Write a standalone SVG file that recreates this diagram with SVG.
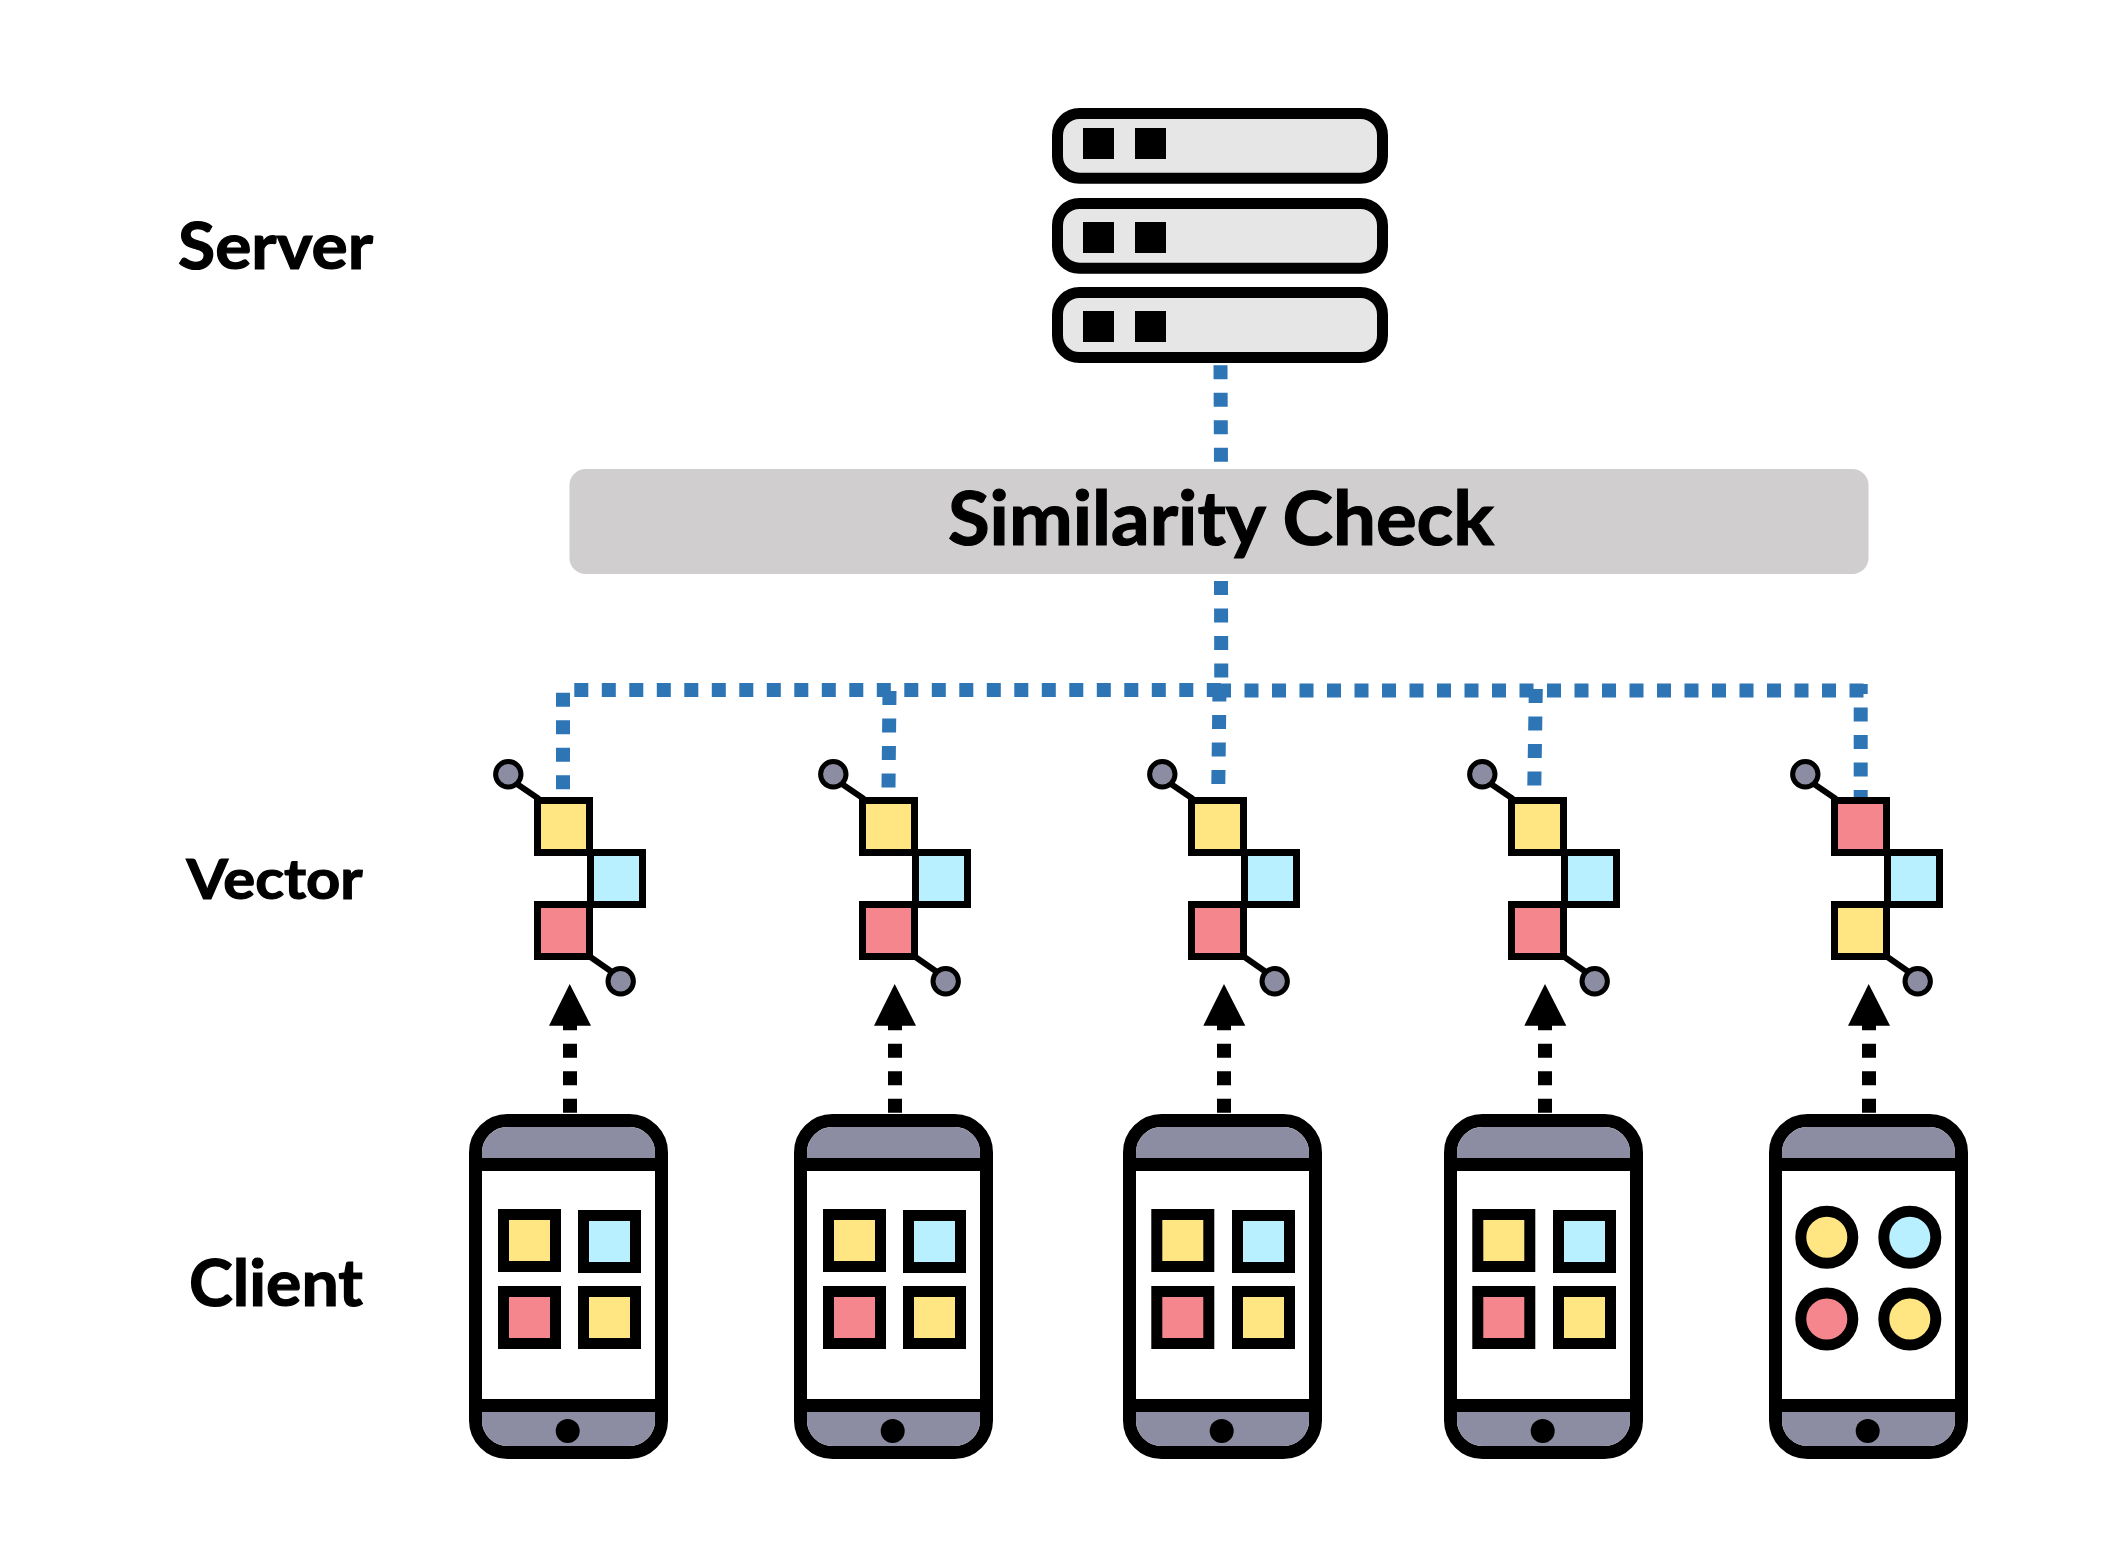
<svg xmlns="http://www.w3.org/2000/svg" width="2101" height="1566" viewBox="0 0 2101 1566">
<style>
.lb{font-family:"Lato","Liberation Sans",sans-serif;font-weight:700;fill:#000;stroke:#000;stroke-width:1.2}
.bd{fill:none;stroke:#2e75b6;stroke-width:14;stroke-dasharray:14 13.5}
.kd{fill:none;stroke:#000;stroke-width:14;stroke-dasharray:14 13.5}
.srv{fill:#e6e6e6;stroke:#000;stroke-width:11}
.cell{stroke:#000;stroke-width:7}
.ic{stroke:#000;stroke-width:11}
.y{fill:#ffe682}.b{fill:#b9f0ff}.r{fill:#f5868d}.g{fill:#8c8ca2}
.st{stroke:#000;stroke-width:6}
.dot{fill:#8c8ca2;stroke:#000;stroke-width:5}
.frame{fill:#fff;stroke:#000;stroke-width:13}
</style>
<defs>
<g id="vec">
<line class="st" x1="517" y1="784" x2="539" y2="799"/>
<line class="st" x1="589" y1="956" x2="612" y2="972"/>
<circle class="dot" cx="508.3" cy="774.3" r="12.7"/>
<circle class="dot" cx="620.7" cy="981.3" r="12.7"/>
</g>
<g id="phone">
<rect class="frame" x="475.5" y="1120.5" width="186" height="332" rx="32"/>
<path class="g" d="M482 1158V1152.500a25.500 25.500 0 0 1 25.500-25.500h122a25.500 25.500 0 0 1 25.500 25.500v5.500z"/>
<path class="g" d="M482 1412V1420.500a25.500 25.500 0 0 0 25.500 25.500h122a25.500 25.500 0 0 0 25.500-25.500v-8.500z"/>
<rect x="476" y="1158" width="185" height="13"/>
<rect x="476" y="1399" width="185" height="13"/>
<ellipse cx="567.700" cy="1431" rx="12" ry="12"/>
</g>
</defs>
<rect width="2101" height="1566" fill="#fff"/>
<g id="connectors">
<path class="bd" d="M1220.500 365.300L1221 469"/>
<path class="bd" d="M1221 581L1221.300 691"/>
<path class="bd" d="M1219.500 687.500L1218.300 785"/>
<path class="bd" d="M574.300 690H1221"/>
<path class="bd" d="M1217 690.500H1863.500"/>
<path class="bd" d="M563 692.700V789.500"/>
<path class="bd" d="M889.500 691L888.500 787.500"/>
<path class="bd" d="M1535.800 689L1534.300 785.500"/>
<path class="bd" d="M1860.700 684V797" style="stroke-dashoffset:4"/>
<g id="uplinks">
<path class="kd" d="M570 1112.700V1020"/><polygon points="569.700,984 549,1025.700 591,1025.700"/>
<path class="kd" d="M895 1112.700V1020"/><polygon points="894.700,984 874,1025.700 916,1025.700"/>
<path class="kd" d="M1224 1112.700V1020"/><polygon points="1224,984 1203.300,1025.700 1245.300,1025.700"/>
<path class="kd" d="M1545 1112.700V1020"/><polygon points="1545,984 1524.300,1025.700 1566.300,1025.700"/>
<path class="kd" d="M1869 1112.700V1020"/><polygon points="1868.700,984 1848,1025.700 1890,1025.700"/>
</g>
</g>
<g id="server">
<rect class="srv" x="1057.500" y="113.500" width="325" height="64.700" rx="22"/>
<rect class="srv" x="1057.500" y="203.500" width="325" height="64.700" rx="22"/>
<rect class="srv" x="1057.500" y="292.500" width="325" height="65" rx="22"/>
<rect x="1083" y="128" width="31" height="31"/><rect x="1135" y="128" width="31" height="31"/>
<rect x="1083" y="222" width="31" height="31"/><rect x="1135" y="222" width="31" height="31"/>
<rect x="1083" y="311" width="31" height="31"/><rect x="1135" y="311" width="31" height="31"/>
</g>
<g id="similarity-check">
<rect x="569.500" y="469" width="1299" height="105" rx="16" fill="#d0cece"/>
<text class="lb" x="948" y="545" font-size="74" textLength="546" lengthAdjust="spacingAndGlyphs">Similarity Check</text>
</g>
<g id="label-server"><text class="lb" x="178" y="269" font-size="65" textLength="195" lengthAdjust="spacingAndGlyphs">Server</text></g>
<g id="label-vector"><text class="lb" x="186.500" y="899.300" font-size="55" textLength="176" lengthAdjust="spacingAndGlyphs">Vector</text></g>
<g id="label-client"><text class="lb" x="189" y="1305.500" font-size="65" textLength="174" lengthAdjust="spacingAndGlyphs">Client</text></g>
<g id="vector-1"><use href="#vec"/>
<rect class="cell y" x="537.500" y="800.500" width="52" height="52"/><rect class="cell b" x="590.500" y="852.500" width="52" height="52"/><rect class="cell r" x="537.500" y="904.500" width="52" height="52"/></g>
<g id="vector-2" transform="translate(325 0)"><use href="#vec"/>
<rect class="cell y" x="537.500" y="800.500" width="52" height="52"/><rect class="cell b" x="590.500" y="852.500" width="52" height="52"/><rect class="cell r" x="537.500" y="904.500" width="52" height="52"/></g>
<g id="vector-3" transform="translate(654 0)"><use href="#vec"/>
<rect class="cell y" x="537.500" y="800.500" width="52" height="52"/><rect class="cell b" x="590.500" y="852.500" width="52" height="52"/><rect class="cell r" x="537.500" y="904.500" width="52" height="52"/></g>
<g id="vector-4" transform="translate(974 0)"><use href="#vec"/>
<rect class="cell y" x="537.500" y="800.500" width="52" height="52"/><rect class="cell b" x="590.500" y="852.500" width="52" height="52"/><rect class="cell r" x="537.500" y="904.500" width="52" height="52"/></g>
<g id="vector-5" transform="translate(1297 0)"><use href="#vec"/>
<rect class="cell r" x="537.500" y="800.500" width="52" height="52"/><rect class="cell b" x="590.500" y="852.500" width="52" height="52"/><rect class="cell y" x="537.500" y="904.500" width="52" height="52"/></g>
<g id="client-1"><use href="#phone"/>
<rect class="ic y" x="503.500" y="1214.500" width="52" height="52"/><rect class="ic b" x="583.500" y="1215.500" width="52" height="52"/><rect class="ic r" x="503.500" y="1291.500" width="52" height="52"/><rect class="ic y" x="583.500" y="1291.500" width="52" height="52"/></g>
<g id="client-2" transform="translate(325 0)"><use href="#phone"/>
<rect class="ic y" x="503.500" y="1214.500" width="52" height="52"/><rect class="ic b" x="583.500" y="1215.500" width="52" height="52"/><rect class="ic r" x="503.500" y="1291.500" width="52" height="52"/><rect class="ic y" x="583.500" y="1291.500" width="52" height="52"/></g>
<g id="client-3" transform="translate(654 0)"><use href="#phone"/>
<rect class="ic y" x="502.800" y="1214.500" width="52" height="52"/><rect class="ic b" x="583.500" y="1215.500" width="52" height="52"/><rect class="ic r" x="502.800" y="1291.500" width="52" height="52"/><rect class="ic y" x="583.500" y="1291.500" width="52" height="52"/></g>
<g id="client-4" transform="translate(975 0)"><use href="#phone"/>
<rect class="ic y" x="502.800" y="1214.500" width="52" height="52"/><rect class="ic b" x="583.500" y="1215.500" width="52" height="52"/><rect class="ic r" x="502.800" y="1291.500" width="52" height="52"/><rect class="ic y" x="583.500" y="1291.500" width="52" height="52"/></g>
<g id="client-5" transform="translate(1300 0)"><use href="#phone"/>
<circle class="ic y" cx="526.800" cy="1237.300" r="26"/><circle class="ic b" cx="609.800" cy="1237.300" r="26"/><circle class="ic r" cx="526.800" cy="1319" r="26"/><circle class="ic y" cx="609.800" cy="1319" r="26"/></g>
</svg>
